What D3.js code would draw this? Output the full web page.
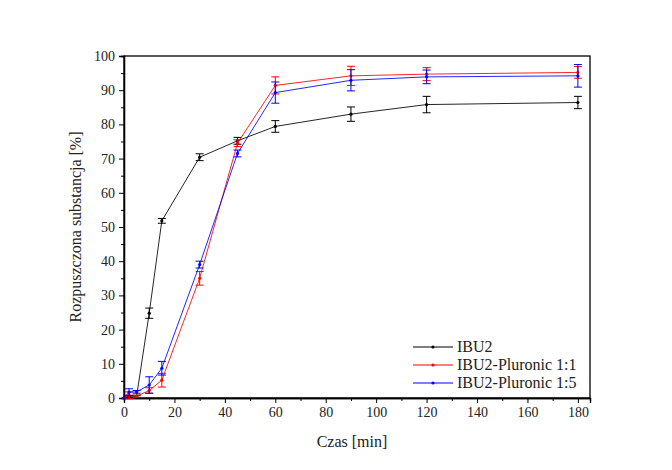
<!DOCTYPE html>
<html>
<head>
<meta charset="utf-8">
<script src="https://cdn.jsdelivr.net/npm/d3@7"></script>
<style>
  body { margin: 0; background: #fff; }
</style>
</head>
<body>
<svg id="canvas"></svg>
<script>
let width = 672;
let height = 470;
let serif = 'Liberation Serif';

// czas [min]
let times = [0, 2, 5, 10, 15, 30, 45, 60, 90, 120, 180];

let ibu2 = [0, 0.5, 0.5, 24.8, 51.8, 70.4, 75.2, 79.4, 83.0, 85.8, 86.4];
let ibu2Err = [0, 0.3, 0.3, 1.5, 0.7, 1.0, 1.0, 1.7, 2.1, 2.4, 1.8];

let plu11 = [0, 0.8, 0.5, 2.2, 5.2, 35.0, 74.5, 91.4, 94.2, 94.7, 95.2];
let plu11Err = [0, 1.0, 0.3, 0.8, 2.0, 2.0, 1.0, 2.5, 2.8, 1.9, 1.7];

let plu15 = [0, 1.7, 1.8, 3.8, 8.7, 39.0, 71.5, 89.3, 92.9, 93.9, 94.2];
let plu15Err = [0, 1.0, 0.4, 2.4, 2.0, 1.0, 1.0, 3.1, 3.1, 2.0, 3.3];

let seriesNames = ['IBU2', 'IBU2-Pluronic 1:1', 'IBU2-Pluronic 1:5'];
let colors = ['#000000', '#ff0000', '#0000ff'];

let xTicks = [0, 20, 40, 60, 80, 100, 120, 140, 160, 180];
let yTicks = [0, 10, 20, 30, 40, 50, 60, 70, 80, 90, 100];

let plotLeft = 124, plotRight = 590, plotTop = 56, plotBottom = 398;

let canvas = d3.select('#canvas')
  .attr('width', width)
  .attr('height', height);

let xScale = d3.scaleLinear().domain([0, 184.8]).range([plotLeft, plotRight]);
let yScale = d3.scaleLinear().domain([0, 100]).range([plotBottom, plotTop]);

let series = [ibu2, plu11, plu15].map((vals, i) => {
  let errs = [ibu2Err, plu11Err, plu15Err][i];
  return {
    name: seriesNames[i],
    color: colors[i],
    points: times.map((t, j) => ({ t: t, v: vals[j], e: errs[j] }))
  };
});

// frame
canvas.append('rect')
  .attr('x', plotLeft).attr('y', plotTop)
  .attr('width', plotRight - plotLeft).attr('height', plotBottom - plotTop)
  .attr('fill', 'none').attr('stroke', '#000').attr('stroke-width', 1.3);

// axes
let xAxis = d3.axisBottom(xScale).tickValues(xTicks).tickSize(5).tickPadding(4).tickFormat(d3.format('d'));
let xMinor = d3.axisBottom(xScale).tickValues(d3.range(10, 181, 20)).tickSize(3).tickFormat('');
let yAxis = d3.axisLeft(yScale).tickValues(yTicks).tickSize(5).tickPadding(4);
let yMinor = d3.axisLeft(yScale).tickValues(d3.range(5, 100, 10)).tickSize(3).tickFormat('');

[[xAxis, 'x'], [xMinor, 'x'], [yAxis, 'y'], [yMinor, 'y']].forEach(([ax, k]) => {
  let g = canvas.append('g')
    .attr('transform', k === 'x' ? 'translate(0,' + plotBottom + ')' : 'translate(' + plotLeft + ',0)')
    .call(ax);
  g.select('.domain').attr('stroke-width', 1.3);
  g.selectAll('.tick line').attr('stroke', '#000');
  g.selectAll('.tick text')
    .attr('fill', '#222')
    .style('font-family', serif)
    .style('font-size', '14px');
});

// lines, error bars, markers
let line = d3.line().x(d => xScale(d.t)).y(d => yScale(d.v));

series.forEach(s => {
  let g = canvas.append('g');
  g.append('path')
    .datum(s.points)
    .attr('d', line)
    .attr('fill', 'none')
    .attr('stroke', s.color)
    .attr('stroke-width', 1)
    .attr('stroke-opacity', 0.85);

  let eb = g.selectAll('.err').data(s.points.filter(d => d.e > 0)).enter().append('g');
  eb.append('line')
    .attr('x1', d => xScale(d.t)).attr('x2', d => xScale(d.t))
    .attr('y1', d => yScale(d.v - d.e)).attr('y2', d => yScale(d.v + d.e))
    .attr('stroke', s.color).attr('stroke-width', 1);
  [-1, 1].forEach(sign => {
    eb.append('line')
      .attr('x1', d => xScale(d.t) - 4).attr('x2', d => xScale(d.t) + 4)
      .attr('y1', d => yScale(d.v + sign * d.e)).attr('y2', d => yScale(d.v + sign * d.e))
      .attr('stroke', s.color).attr('stroke-width', 1);
  });

  g.selectAll('circle').data(s.points).enter().append('circle')
    .attr('cx', d => xScale(d.t)).attr('cy', d => yScale(d.v))
    .attr('r', 1.6).attr('fill', s.color);
});

// axis titles
canvas.append('text')
  .attr('x', (plotLeft + plotRight) / 2 - 5).attr('y', 447)
  .attr('text-anchor', 'middle')
  .style('font-family', serif).style('font-size', '16px').attr('fill', '#222')
  .text('Czas [min]');

canvas.append('text')
  .attr('transform', 'translate(81,' + ((plotTop + plotBottom) / 2) + ') rotate(-90)')
  .attr('text-anchor', 'middle')
  .style('font-family', serif).style('font-size', '16px').attr('fill', '#222')
  .text('Rozpuszczona substancja [%]');

// legend
let legend = canvas.append('g');
series.forEach((s, i) => {
  let y = 347 + i * 18;
  legend.append('line')
    .attr('x1', 413).attr('x2', 453).attr('y1', y).attr('y2', y)
    .attr('stroke', s.color).attr('stroke-width', 1);
  legend.append('circle').attr('cx', 433).attr('cy', y).attr('r', 1.6).attr('fill', s.color);
  legend.append('text')
    .attr('x', 457).attr('y', y + 5)
    .style('font-family', serif).style('font-size', '16px').attr('fill', '#222')
    .text(s.name);
});
</script>
</body>
</html>
